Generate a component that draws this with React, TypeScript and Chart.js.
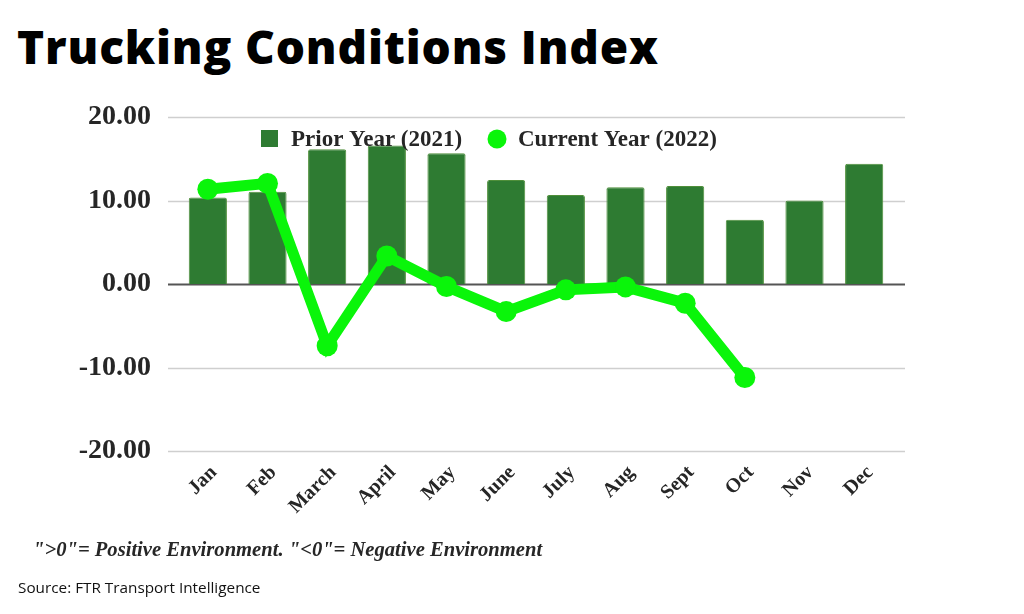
import React, { useEffect, useRef } from "react";
import { Chart, registerables } from "chart.js";

Chart.register(...registerables);

const months = ["Jan", "Feb", "March", "April", "May", "June", "July", "Aug", "Sept", "Oct", "Nov", "Dec"];
const priorYear2021 = [10.35, 11.05, 16.15, 16.6, 15.65, 12.45, 10.65, 11.6, 11.75, 7.7, 10.0, 14.4];
const currentYear2022: (number | null)[] = [11.35, 12.05, -7.4, 3.35, -0.3, -3.3, -0.7, -0.35, -2.3, -11.2, null, null];
const yTicks = [-20, -10, 0, 10, 20];

const BAR_COLOR = "#2e7b32";
const LINE_COLOR = "#0af50a";
const SERIF = "'Liberation Serif', 'Times New Roman', serif";

const gridPlugin = {
  id: "extGrid",
  beforeDatasetsDraw(chart: any) {
    const { ctx, chartArea, scales } = chart;
    const y = scales.y;
    const left = chartArea.left - 10;
    const right = chartArea.right + 11;
    ctx.save();
    yTicks.forEach((v) => {
      const py = Math.round(y.getPixelForValue(v)) + 0.5;
      ctx.beginPath();
      ctx.strokeStyle = v === 0 ? "#555555" : "#cfcfcf";
      ctx.lineWidth = v === 0 ? 2 : 1.5;
      ctx.moveTo(left, py);
      ctx.lineTo(right, py);
      ctx.stroke();
    });
    ctx.restore();
  },
};

const legendPlugin = {
  id: "overlayLegend",
  afterDraw(chart: any) {
    const { ctx } = chart;
    const ds = chart.data.datasets;
    ctx.save();
    ctx.font = `bold 23px ${SERIF}`;
    ctx.textBaseline = "alphabetic";
    ctx.fillStyle = BAR_COLOR;
    ctx.fillRect(261, 130, 17, 17);
    ctx.fillStyle = "#262626";
    ctx.fillText(ds[0].label, 291, 146);
    ctx.beginPath();
    ctx.fillStyle = LINE_COLOR;
    ctx.arc(497, 139, 9.5, 0, Math.PI * 2);
    ctx.fill();
    ctx.fillStyle = "#262626";
    ctx.fillText(ds[1].label, 518, 146);
    ctx.restore();
  },
};

export default function App() {
  const canvasRef = useRef<HTMLCanvasElement | null>(null);

  useEffect(() => {
    document.body.style.margin = "0";
    const canvas = canvasRef.current;
    if (!canvas) return;
    const chart = new Chart(canvas, {
      type: "bar",
      data: {
        labels: months,
        datasets: [
          {
            type: "bar",
            label: "Prior Year (2021)",
            data: priorYear2021,
            backgroundColor: BAR_COLOR,
            borderColor: "#4f8f3a",
            borderWidth: 1,
            borderRadius: 2,
            borderSkipped: "bottom",
            categoryPercentage: 0.64,
            barPercentage: 1,
            order: 2,
          },
          {
            type: "line",
            label: "Current Year (2022)",
            data: currentYear2022,
            borderColor: LINE_COLOR,
            backgroundColor: LINE_COLOR,
            borderWidth: 11,
            pointRadius: 10.5,
            pointHoverRadius: 10.5,
            pointBackgroundColor: LINE_COLOR,
            pointBorderWidth: 0,
            tension: 0,
            spanGaps: false,
            order: 1,
          } as any,
        ],
      },
      options: {
        animation: false,
        responsive: false,
        maintainAspectRatio: false,
        layout: { padding: { left: 0, right: 130, top: 117, bottom: 83 } },
        plugins: {
          legend: { display: false },
          tooltip: { enabled: false },
          title: { display: false },
        },
        scales: {
          x: {
            grid: { display: false, drawTicks: false },
            border: { display: false },
            afterFit: (s: any) => {
              s.height = 80;
            },
            ticks: {
              minRotation: 45,
              maxRotation: 45,
              padding: 10,
              labelOffset: 6,
              color: "#262626",
              font: { family: SERIF, size: 20, weight: "bold" },
            },
          },
          y: {
            min: -20,
            max: 20,
            afterFit: (s: any) => {
              s.width = 178;
            },
            afterBuildTicks: (s: any) => {
              s.ticks = yTicks.map((v) => ({ value: v }));
            },
            grid: { display: false, drawTicks: false },
            border: { display: false },
            ticks: {
              padding: 27,
              color: "#262626",
              font: { family: SERIF, size: 28, weight: "bold" },
              callback: (v: any) => Number(v).toFixed(2),
            },
          },
        },
      },
      plugins: [gridPlugin, legendPlugin],
    });
    return () => chart.destroy();
  }, []);

  return (
    <div style={{ position: "relative", width: 1024, height: 614, background: "#ffffff", overflow: "hidden" }}>
      <div
        style={{
          position: "absolute",
          left: 17,
          top: 16,
          fontFamily: "'Open Sans', sans-serif",
          fontWeight: 800,
          fontSize: 46,
          lineHeight: "60px",
          color: "#000000",
          whiteSpace: "nowrap",
          letterSpacing: "0.85px",
        }}
      >
        Trucking Conditions Index
      </div>
      <canvas ref={canvasRef} width={1024} height={614} style={{ position: "absolute", left: 0, top: 0, width: 1024, height: 614 }} />
      <div
        style={{
          position: "absolute",
          left: 33,
          top: 536,
          fontFamily: SERIF,
          fontStyle: "italic",
          fontWeight: "bold",
          fontSize: 20.6,
          lineHeight: "26px",
          color: "#262626",
          whiteSpace: "nowrap",
        }}
      >
        "&gt;0"= Positive Environment. "&lt;0"= Negative Environment
      </div>
      <div
        style={{
          position: "absolute",
          left: 18,
          top: 577,
          fontFamily: "'Open Sans', sans-serif",
          fontSize: 15.3,
          lineHeight: "20px",
          color: "#111111",
          whiteSpace: "nowrap",
        }}
      >
        Source: FTR Transport Intelligence
      </div>
    </div>
  );
}
